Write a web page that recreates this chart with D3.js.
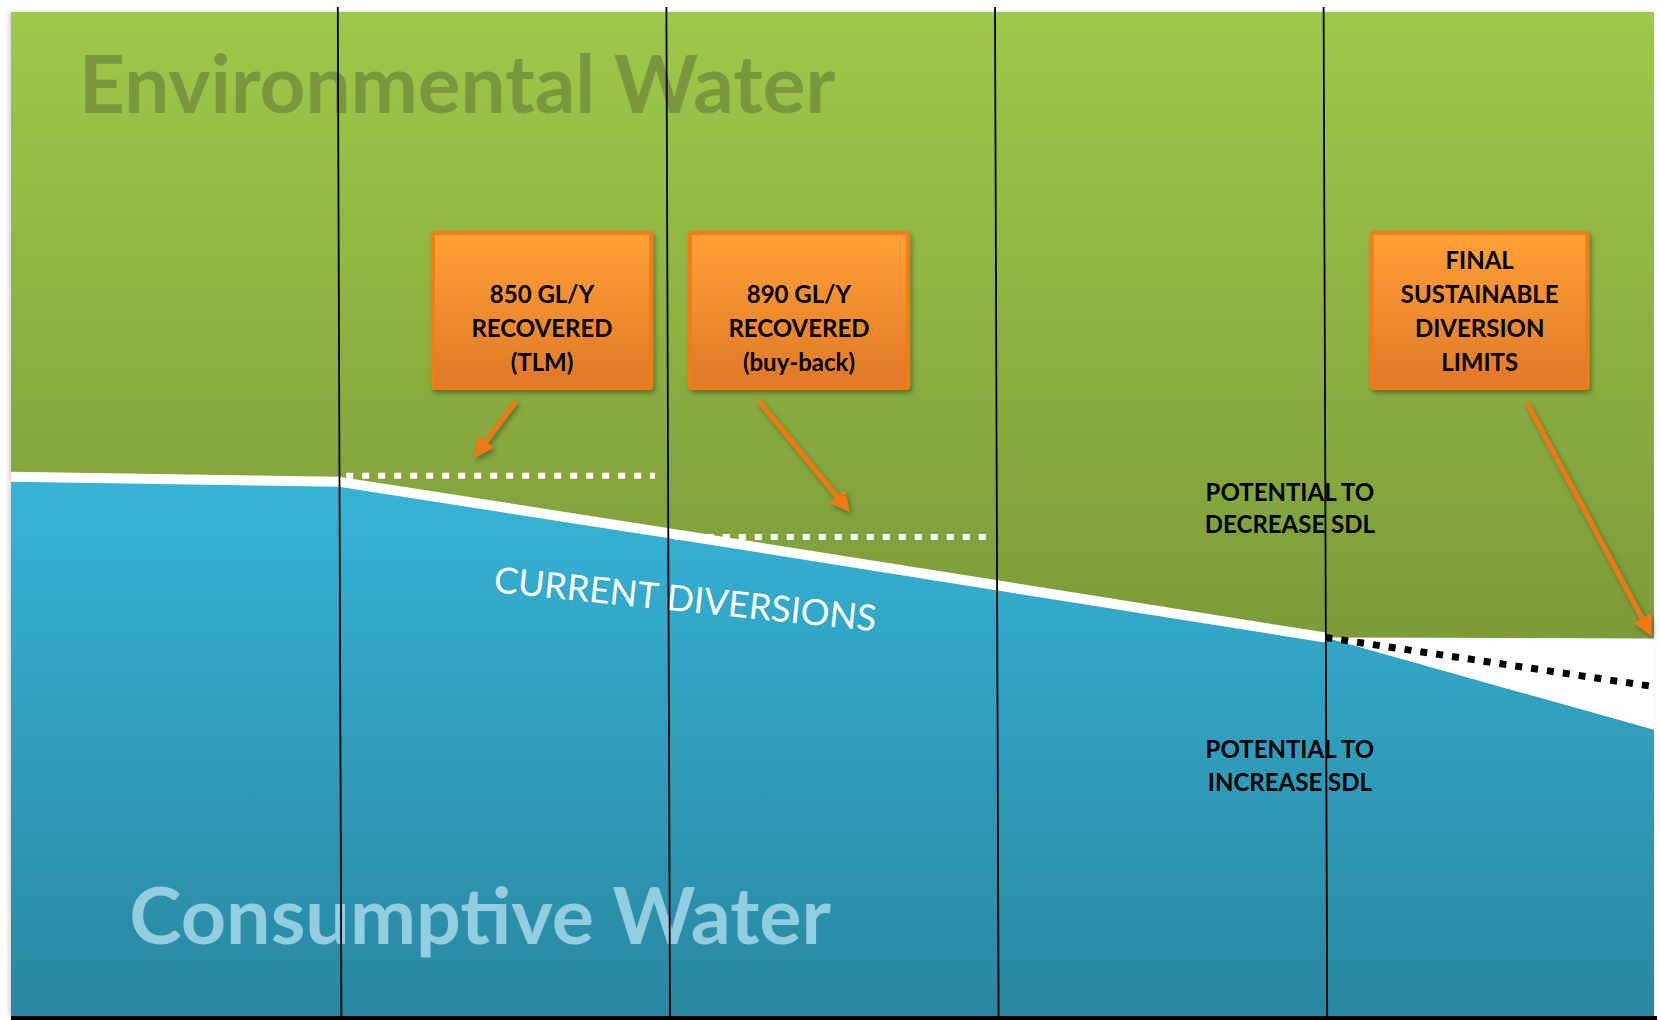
<!DOCTYPE html>
<html>
<head>
<meta charset="utf-8">
<script src="https://cdn.jsdelivr.net/npm/d3@7"></script>
<style>
  html, body { margin: 0; padding: 0; background: #fff; }
  svg { display: block; }
</style>
</head>
<body>
<div class="vis-sdl"></div>
<script>
// stage boundaries along x (columns split by the vertical rules)
const stages = [0, 1, 2, 3, 4, 5];
const dividers = [1, 2, 3, 4];

// current diversions level at each stage boundary (0 = bottom, 100 = top)
const currentDiversions = [53.7, 53.2, 48.1, 42.9, 37.7];

// final SDL band at the last boundary
const sdlUpper = 37.6;     // potential to decrease SDL
const sdlLower = 28.5;     // potential to increase SDL
const sdlEstimate = 32.8;  // dotted black estimate

// water recovered targets (white dotted lines)
const recoveryFrom = [1.02, 2.02];
const recoveryTo = [1.96, 2.97];
const recoveryLevel = [53.8, 47.7];

// texts
const regionLabels = ["Environmental Water", "Consumptive Water"];
const lineLabel = "CURRENT DIVERSIONS";
const calloutText = [
  ["850 GL/Y", "RECOVERED", "(TLM)"],
  ["890 GL/Y", "RECOVERED", "(buy-back)"],
  ["FINAL", "SUSTAINABLE", "DIVERSION", "LIMITS"]
];
const potentialLabels = [
  ["POTENTIAL TO", "DECREASE SDL"],
  ["POTENTIAL TO", "INCREASE SDL"]
];

// annotation layout, in stage / level units
const calloutLayout = [
  { x0: 1.284, x1: 1.948, from: [1.537, 61.25], to: [1.409, 55.6] },
  { x0: 2.066, x1: 2.730, from: [2.276, 61.25], to: [2.553, 50.2] },
  { x0: 4.141, x1: 4.798, from: [4.613, 61.1], to: [4.993, 37.85] }
];
const boxTop = 78.0, boxBottom = 62.55;

const width = 1660, height = 1020;

const svg = d3.select(".vis-sdl")
  .append("svg")
  .attr("width", width)
  .attr("height", height);

const x = d3.scaleLinear().domain([0, 5]).range([11, 1654]);
const y = d3.scaleLinear().domain([0, 100]).range([1016, 12]);

const defs = svg.append("defs");

const green = defs.append("linearGradient")
  .attr("id", "green").attr("gradientUnits", "userSpaceOnUse")
  .attr("x1", 0).attr("x2", 0).attr("y1", y(100)).attr("y2", 640);
green.append("stop").attr("offset", 0).attr("stop-color", "#9ec84a");
green.append("stop").attr("offset", 1).attr("stop-color", "#7c9b39");

const blue = defs.append("linearGradient")
  .attr("id", "blue").attr("gradientUnits", "userSpaceOnUse")
  .attr("x1", 0).attr("x2", 0).attr("y1", 470).attr("y2", y(0));
blue.append("stop").attr("offset", 0).attr("stop-color", "#37b4d8");
blue.append("stop").attr("offset", 1).attr("stop-color", "#2987a0");

const orange = defs.append("linearGradient")
  .attr("id", "orange").attr("x1", 0).attr("x2", 0).attr("y1", 0).attr("y2", 1);
orange.append("stop").attr("offset", 0).attr("stop-color", "#ffa136");
orange.append("stop").attr("offset", 1).attr("stop-color", "#e07829");

const shadow = defs.append("filter").attr("id", "shadow")
  .attr("x", "-20%").attr("y", "-20%").attr("width", "140%").attr("height", "140%");
shadow.append("feDropShadow")
  .attr("dx", 2).attr("dy", 3).attr("stdDeviation", 2.5)
  .attr("flood-color", "#000").attr("flood-opacity", 0.35);

const edge = defs.append("filter").attr("id", "edge")
  .attr("x", "-5%").attr("y", "-5%").attr("width", "110%").attr("height", "110%");
edge.append("feDropShadow")
  .attr("dx", -2).attr("dy", 0).attr("stdDeviation", 2)
  .attr("flood-color", "#000").attr("flood-opacity", 0.18);

// frame shadow
svg.append("rect")
  .attr("x", x(0)).attr("y", y(100))
  .attr("width", x(5) - x(0)).attr("height", y(0) - y(100))
  .attr("fill", "#fff")
  .attr("filter", "url(#edge)");

const pts = currentDiversions.map((v, i) => ({ s: stages[i], v: v }));

// environmental water (above the line)
const envArea = d3.area()
  .x(d => x(d.s))
  .y0(y(100))
  .y1(d => y(d.v));
svg.append("path")
  .datum(pts.concat([{ s: 5, v: sdlUpper }]))
  .attr("d", envArea)
  .attr("fill", "url(#green)");

// consumptive water (below the line)
const consArea = d3.area()
  .x(d => x(d.s))
  .y0(y(0))
  .y1(d => y(d.v));
svg.append("path")
  .datum(pts.concat([{ s: 5, v: sdlLower }]))
  .attr("d", consArea)
  .attr("fill", "url(#blue)");

// region labels
svg.append("text")
  .attr("x", x(0.207)).attr("y", y(89.94))
  .text(regionLabels[0])
  .style("font-family", "Lato, 'Open Sans', sans-serif")
  .style("font-weight", 700)
  .style("font-size", "80px")
  .attr("fill", "#7a973e");

svg.append("text")
  .attr("x", x(0.36)).attr("y", y(7.17))
  .text(regionLabels[1])
  .style("font-family", "Lato, 'Open Sans', sans-serif")
  .style("font-weight", 700)
  .style("font-size", "79px")
  .attr("fill", "#93cde0");

// recovery targets, white dotted
recoveryLevel.forEach((lv, i) => {
  svg.append("line")
    .attr("x1", x(recoveryFrom[i])).attr("x2", x(recoveryTo[i]))
    .attr("y1", y(lv)).attr("y2", y(lv))
    .attr("stroke", "#fff")
    .attr("stroke-width", 6)
    .attr("stroke-dasharray", "7 9");
});

// current diversions line
const line = d3.line().x(d => x(d.s)).y(d => y(d.v));
svg.append("path")
  .datum(pts)
  .attr("d", line)
  .attr("fill", "none")
  .attr("stroke", "#fff")
  .attr("stroke-width", 10)
  .attr("stroke-linejoin", "round");

// final SDL estimate, black dotted
svg.append("path")
  .datum([{ s: 4, v: currentDiversions[4] }, { s: 5, v: sdlEstimate }])
  .attr("d", line)
  .attr("fill", "none")
  .attr("stroke", "#000")
  .attr("stroke-width", 7)
  .attr("stroke-dasharray", "7 9");

// line label
svg.append("text")
  .attr("transform", "translate(" + x(1.467) + "," + y(42.23) + ") rotate(5.86)")
  .text(lineLabel)
  .style("font-family", "Lato, 'Open Sans', sans-serif")
  .style("font-size", "36px")
  .attr("fill", "#fff");

// potential labels
const potY = [[51.29, 48.11], [25.70, 22.44]];
potentialLabels.forEach((lines, i) => {
  const t = svg.append("text")
    .attr("text-anchor", "middle")
    .style("font-family", "Lato, 'Open Sans', sans-serif")
    .style("font-weight", 700)
    .style("font-size", "24px")
    .attr("fill", "#000");
  lines.forEach((l, j) => {
    t.append("tspan").attr("x", x(3.892)).attr("y", y(potY[i][j])).text(l);
  });
});

// bottom rule
svg.append("line")
  .attr("x1", x(0)).attr("x2", x(5) + 3)
  .attr("y1", y(0) + 2).attr("y2", y(0) + 2)
  .attr("stroke", "#000")
  .attr("stroke-width", 4);

// vertical stage rules (slightly tilted, as in the sketch)
svg.selectAll(".divider")
  .data(dividers)
  .enter()
  .append("line")
  .attr("class", "divider")
  .attr("x1", d => x(d) - 1.8).attr("x2", d => x(d) + 1.8)
  .attr("y1", y(100) - 5).attr("y2", y(0))
  .attr("stroke", "#000")
  .attr("stroke-width", 1.8);

// callout boxes
const callouts = svg.selectAll(".callout")
  .data(calloutLayout)
  .enter()
  .append("g")
  .attr("class", "callout");

callouts.append("rect")
  .attr("x", d => x(d.x0)).attr("y", y(boxTop))
  .attr("width", d => x(d.x1) - x(d.x0))
  .attr("height", y(boxBottom) - y(boxTop))
  .attr("fill", "url(#orange)")
  .attr("stroke", "#f27b17")
  .attr("stroke-width", 4)
  .attr("rx", 2)
  .attr("filter", "url(#shadow)");

callouts.each(function (d, i) {
  const lines = calloutText[i];
  const cx = (x(d.x0) + x(d.x1)) / 2;
  const last = y(boxTop) + 138;
  const t = d3.select(this).append("text")
    .attr("text-anchor", "middle")
    .style("font-family", "Lato, 'Open Sans', sans-serif")
    .style("font-weight", 700)
    .style("font-size", "24px")
    .attr("fill", "#000");
  lines.forEach((l, j) => {
    t.append("tspan")
      .attr("x", cx)
      .attr("y", last - (lines.length - 1 - j) * 33.8)
      .text(l);
  });

  // arrow
  const x1 = x(d.from[0]), y1 = y(d.from[1]);
  const x2 = x(d.to[0]), y2 = y(d.to[1]);
  const ang = Math.atan2(y2 - y1, x2 - x1);
  const head = 20, half = 10;
  const bx = x2 - head * Math.cos(ang), by = y2 - head * Math.sin(ang);
  const a = d3.select(this).append("g").attr("filter", "url(#shadow)");
  a.append("line")
    .attr("x1", x1).attr("y1", y1).attr("x2", bx + 2 * Math.cos(ang)).attr("y2", by + 2 * Math.sin(ang))
    .attr("stroke", "#f07818")
    .attr("stroke-width", 5);
  a.append("path")
    .attr("d", d3.line()([
      [x2, y2],
      [bx + half * Math.sin(ang), by - half * Math.cos(ang)],
      [bx - half * Math.sin(ang), by + half * Math.cos(ang)]
    ]) + "Z")
    .attr("fill", "#f07818");
});
</script>
</body>
</html>
